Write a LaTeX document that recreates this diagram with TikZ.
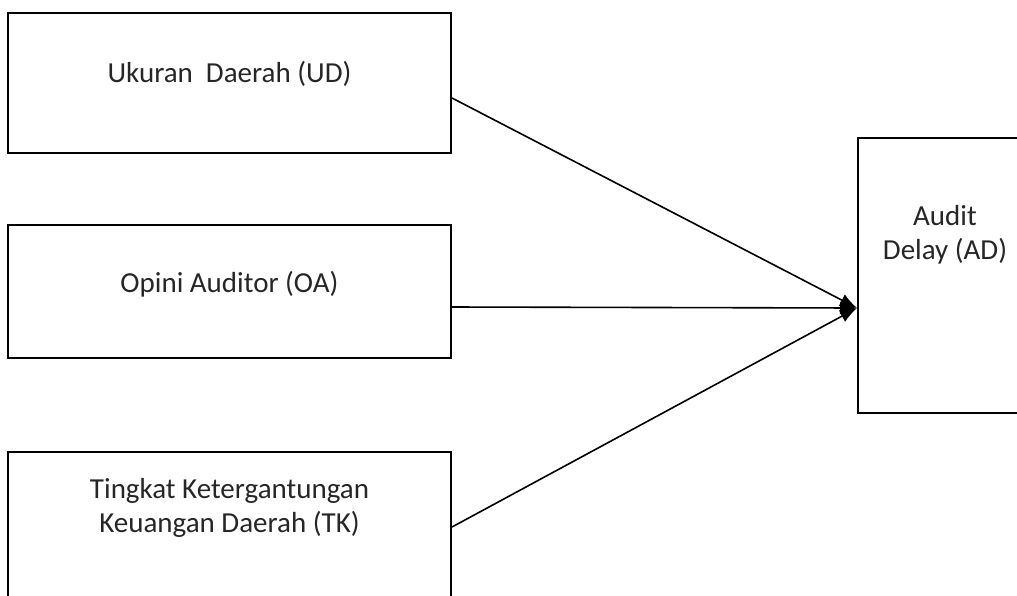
\documentclass[tikz,border=0pt]{standalone}
\usepackage{fontspec}
\setmainfont{Carlito}
\usetikzlibrary{arrows.meta}
\begin{document}
\begin{tikzpicture}[x=1pt,y=-1pt,
  box/.style={draw=black,line width=2pt,minimum width=443pt,inner sep=0pt},
  lbl/.style={font=\fontsize{29}{34}\selectfont,align=center,inner sep=0pt,text=black!85},
  conn/.style={line width=1.6pt,-{Latex[length=17pt,width=13pt]}}]
\useasboundingbox (0,0) rectangle (1017,595);
\clip (0,0) rectangle (1017,595);
\node[box,minimum height=140pt] (UD) at (229.5,83) {};
\node[box,minimum height=133pt] (OA) at (229.5,291.5) {};
\node[box,minimum height=200pt] (TK) at (229.5,552) {};
\node[box,minimum width=180pt,minimum height=275pt] (AD) at (948,275.5) {};
\node[lbl,anchor=base] (tUD) at (229.5,82) {Ukuran\ \ Daerah (UD)};
\node[lbl,anchor=base] (tOA) at (229.5,292) {Opini Auditor (OA)};
\node[lbl,anchor=base] (tTK) at (229.5,532) {Tingkat Ketergantungan\\Keuangan Daerah (TK)};
\node[lbl,anchor=base] (tAD) at (945,259) {Audit\\Delay (AD)};
\coordinate (sUD) at (UD.east |- 0,98);
\coordinate (sOA) at (OA.east |- 0,307);
\coordinate (sTK) at (TK.east |- 0,527);
\coordinate (tip) at (AD.west |- 0,308);
\draw[conn] (sUD) -- (tip);
\draw[conn] (sOA) -- (tip);
\draw[conn] (sTK) -- (tip);
\end{tikzpicture}
\end{document}
